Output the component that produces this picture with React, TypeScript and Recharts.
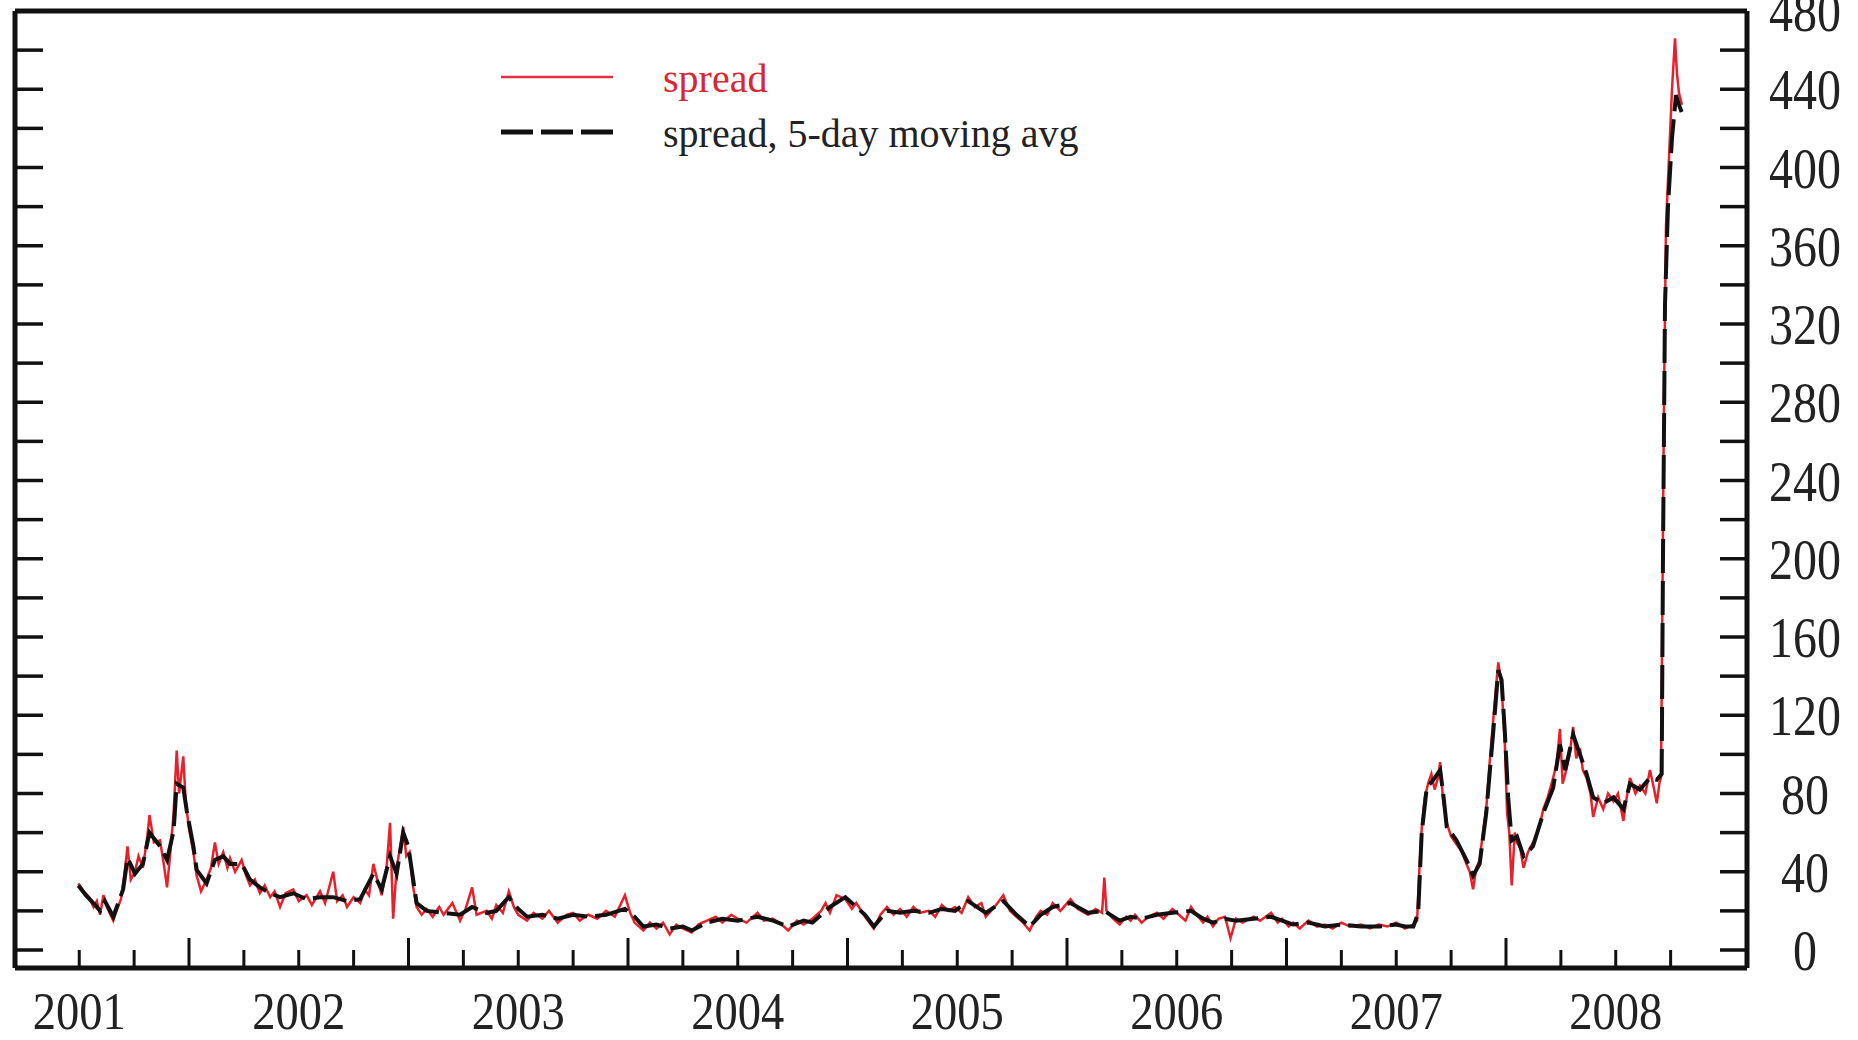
import { LineChart, Line, XAxis, YAxis, Legend } from 'recharts';

const W = 1858;
const H = 1040;
const FONT = '"Liberation Serif", "Times New Roman", serif';
const RED = '#e8202a';
const INK = '#111';

const yTicks = [0, 20, 40, 60, 80, 100, 120, 140, 160, 180, 200, 220, 240, 260, 280, 300, 320, 340, 360, 380, 400, 420, 440, 460, 480];
const xTicks = [
  2001.5, 2001.75, 2002, 2002.25, 2002.5, 2002.75, 2003, 2003.25, 2003.5, 2003.75,
  2004, 2004.25, 2004.5, 2004.75, 2005, 2005.25, 2005.5, 2005.75, 2006, 2006.25,
  2006.5, 2006.75, 2007, 2007.25, 2007.5, 2007.75, 2008, 2008.25, 2008.5, 2008.75,
];

// [year, basis points]
const spreadPts: [number, number][] = [
  [2001.496, 34], [2001.52, 30], [2001.545, 27], [2001.565, 22], [2001.58, 25], [2001.595, 18],
  [2001.61, 28], [2001.63, 21], [2001.655, 15], [2001.67, 20], [2001.69, 26], [2001.705, 38],
  [2001.72, 53], [2001.735, 36], [2001.754, 40], [2001.77, 48], [2001.79, 42], [2001.81, 58],
  [2001.82, 69], [2001.84, 55], [2001.868, 56], [2001.885, 44], [2001.9, 32], [2001.915, 50],
  [2001.93, 70], [2001.944, 102], [2001.955, 80], [2001.974, 99], [2001.985, 76], [2002.0, 62],
  [2002.02, 50], [2002.035, 38], [2002.055, 30], [2002.08, 36], [2002.1, 42], [2002.118, 55],
  [2002.135, 44], [2002.156, 50], [2002.175, 42], [2002.187, 47], [2002.21, 40], [2002.24, 46],
  [2002.26, 38], [2002.278, 33], [2002.3, 36], [2002.323, 29], [2002.345, 33], [2002.37, 27],
  [2002.39, 30], [2002.415, 22], [2002.44, 29], [2002.475, 31], [2002.5, 25], [2002.536, 28],
  [2002.56, 23], [2002.597, 30], [2002.62, 24], [2002.657, 40], [2002.675, 25], [2002.7, 28],
  [2002.72, 22], [2002.75, 27], [2002.78, 24], [2002.8, 31], [2002.82, 28], [2002.84, 44],
  [2002.86, 35], [2002.878, 28], [2002.9, 42], [2002.916, 65], [2002.93, 16], [2002.946, 42],
  [2002.965, 55], [2002.976, 63], [2002.99, 48], [2003.005, 50], [2003.02, 33], [2003.037, 22],
  [2003.06, 18], [2003.083, 21], [2003.11, 17], [2003.14, 22], [2003.16, 18], [2003.2, 24],
  [2003.235, 15], [2003.26, 21], [2003.29, 32], [2003.31, 18], [2003.356, 20], [2003.38, 16],
  [2003.4, 23], [2003.43, 19], [2003.457, 30], [2003.48, 22], [2003.5, 18], [2003.54, 15],
  [2003.57, 19], [2003.61, 16], [2003.64, 20], [2003.68, 14], [2003.72, 18], [2003.75, 19],
  [2003.78, 15], [2003.82, 18], [2003.86, 16], [2003.9, 20], [2003.94, 17], [2003.986, 28],
  [2004.01, 19], [2004.03, 14], [2004.07, 10], [2004.1, 14], [2004.13, 11], [2004.16, 14],
  [2004.19, 8], [2004.22, 13], [2004.25, 11], [2004.29, 9], [2004.32, 13], [2004.36, 15],
  [2004.4, 17], [2004.43, 14], [2004.47, 18], [2004.5, 16], [2004.54, 14], [2004.59, 19],
  [2004.62, 15], [2004.66, 16], [2004.7, 13], [2004.73, 10], [2004.77, 15], [2004.8, 13],
  [2004.84, 16], [2004.88, 20], [2004.9, 24], [2004.92, 19], [2004.95, 28], [2004.99, 26],
  [2005.02, 21], [2005.04, 24], [2005.08, 17], [2005.12, 11], [2005.15, 18], [2005.18, 22],
  [2005.21, 18], [2005.24, 21], [2005.27, 17], [2005.3, 22], [2005.33, 19], [2005.37, 20],
  [2005.4, 17], [2005.43, 23], [2005.46, 20], [2005.49, 22], [2005.52, 19], [2005.55, 27],
  [2005.58, 22], [2005.61, 24], [2005.63, 17], [2005.67, 22], [2005.71, 28], [2005.74, 20],
  [2005.77, 17], [2005.8, 14], [2005.83, 10], [2005.86, 17], [2005.88, 20], [2005.91, 18],
  [2005.935, 24], [2005.97, 20], [2006.016, 26], [2006.05, 21], [2006.096, 18], [2006.13, 21],
  [2006.16, 19], [2006.17, 37], [2006.18, 20], [2006.21, 16], [2006.24, 13], [2006.27, 17],
  [2006.29, 15], [2006.31, 18], [2006.34, 14], [2006.37, 17], [2006.41, 19], [2006.44, 16],
  [2006.48, 21], [2006.51, 18], [2006.54, 15], [2006.565, 22], [2006.59, 18], [2006.62, 14],
  [2006.64, 17], [2006.665, 12], [2006.69, 16], [2006.72, 17], [2006.745, 6], [2006.77, 16],
  [2006.8, 14], [2006.85, 17], [2006.88, 15], [2006.93, 19], [2006.96, 14], [2006.98, 16],
  [2007.01, 12], [2007.03, 14], [2007.06, 11], [2007.1, 15], [2007.14, 12], [2007.175, 13],
  [2007.21, 11], [2007.25, 14], [2007.29, 12], [2007.34, 13], [2007.38, 11], [2007.42, 13],
  [2007.46, 12], [2007.5, 14], [2007.54, 11], [2007.578, 13], [2007.595, 15], [2007.605, 40],
  [2007.616, 62], [2007.63, 78], [2007.645, 85], [2007.66, 90], [2007.675, 82], [2007.69, 88],
  [2007.7, 96], [2007.714, 76], [2007.73, 65], [2007.75, 58], [2007.775, 54], [2007.8, 50],
  [2007.82, 44], [2007.835, 40], [2007.85, 31], [2007.865, 42], [2007.88, 46], [2007.895, 60],
  [2007.91, 72], [2007.925, 95], [2007.94, 115], [2007.955, 135], [2007.965, 147], [2007.98, 135],
  [2007.995, 105], [2008.005, 70], [2008.015, 60], [2008.026, 33], [2008.04, 60], [2008.05, 55],
  [2008.065, 52], [2008.08, 42], [2008.1, 50], [2008.123, 55], [2008.15, 62], [2008.17, 72],
  [2008.19, 78], [2008.215, 88], [2008.23, 95], [2008.246, 113], [2008.258, 85], [2008.27, 90],
  [2008.29, 100], [2008.306, 114], [2008.32, 98], [2008.337, 103], [2008.35, 92], [2008.367, 88],
  [2008.385, 80], [2008.397, 68], [2008.42, 78], [2008.443, 72], [2008.465, 80], [2008.49, 76],
  [2008.51, 80], [2008.535, 66], [2008.55, 78], [2008.565, 88], [2008.59, 80], [2008.61, 84],
  [2008.635, 80], [2008.656, 92], [2008.675, 82], [2008.687, 75], [2008.7, 86], [2008.7062, 88],
  [2008.7107, 150], [2008.7198, 280], [2008.7289, 370], [2008.7426, 405], [2008.7563, 440],
  [2008.77, 466], [2008.779, 448], [2008.7882, 438], [2008.8018, 432],
];

const avgPts: [number, number][] = [
  [2001.496, 33], [2001.53, 28], [2001.564, 24], [2001.595, 20], [2001.617, 25], [2001.655, 17],
  [2001.7, 31], [2001.72, 47], [2001.754, 39], [2001.79, 44], [2001.82, 60], [2001.868, 53],
  [2001.9, 46], [2001.93, 61], [2001.944, 85], [2001.974, 83], [2001.99, 71], [2002.02, 53],
  [2002.035, 41], [2002.08, 34], [2002.118, 46], [2002.156, 48], [2002.187, 44], [2002.24, 44],
  [2002.278, 36], [2002.323, 32], [2002.37, 29], [2002.415, 27], [2002.475, 29], [2002.536, 26],
  [2002.597, 27], [2002.657, 27], [2002.72, 25], [2002.78, 26], [2002.84, 39], [2002.878, 31],
  [2002.916, 48], [2002.946, 39], [2002.976, 60], [2002.999, 53], [2003.02, 37], [2003.037, 24],
  [2003.083, 20], [2003.16, 19], [2003.235, 18], [2003.29, 22], [2003.356, 19], [2003.4, 20],
  [2003.457, 27], [2003.5, 21], [2003.54, 17], [2003.61, 18], [2003.68, 16], [2003.75, 18],
  [2003.82, 17], [2003.9, 18], [2003.986, 21], [2004.03, 17], [2004.07, 12], [2004.13, 13],
  [2004.19, 11], [2004.25, 12], [2004.29, 10], [2004.36, 14], [2004.43, 16], [2004.5, 15],
  [2004.59, 17], [2004.66, 15], [2004.73, 12], [2004.8, 15], [2004.84, 14], [2004.88, 18],
  [2004.92, 22], [2004.99, 27], [2005.04, 22], [2005.08, 18], [2005.12, 12], [2005.18, 20],
  [2005.24, 19], [2005.3, 20], [2005.37, 19], [2005.43, 21], [2005.49, 20], [2005.55, 25],
  [2005.63, 19], [2005.71, 25], [2005.77, 18], [2005.83, 12], [2005.88, 18], [2005.935, 22],
  [2006.016, 24], [2006.096, 19], [2006.17, 20], [2006.24, 15], [2006.29, 17], [2006.34, 16],
  [2006.41, 18], [2006.48, 19], [2006.565, 20], [2006.62, 16], [2006.665, 14], [2006.72, 16],
  [2006.77, 15], [2006.85, 16], [2006.93, 17], [2006.98, 15], [2007.03, 13], [2007.1, 14],
  [2007.175, 12], [2007.25, 13], [2007.34, 12], [2007.42, 12], [2007.5, 13], [2007.54, 12],
  [2007.578, 12], [2007.6, 19], [2007.616, 60], [2007.639, 83], [2007.669, 87], [2007.7, 92],
  [2007.714, 80], [2007.73, 63], [2007.775, 56], [2007.82, 46], [2007.85, 38], [2007.88, 44],
  [2007.91, 70], [2007.94, 109], [2007.965, 143], [2007.98, 138], [2007.995, 111], [2008.01, 78],
  [2008.026, 56], [2008.05, 58], [2008.08, 48], [2008.123, 53], [2008.17, 70], [2008.215, 83],
  [2008.246, 105], [2008.27, 92], [2008.306, 110], [2008.337, 100], [2008.367, 90], [2008.397, 78],
  [2008.443, 75], [2008.49, 78], [2008.535, 72], [2008.565, 85], [2008.61, 82], [2008.656, 88],
  [2008.687, 87], [2008.7093, 90], [2008.7152, 200], [2008.7244, 330], [2008.738, 380],
  [2008.7563, 415], [2008.7745, 437], [2008.7882, 432], [2008.8018, 428],
];

const spreadData = spreadPts.map(([t, v]) => ({ t, v }));
const avgData = avgPts.map(([t, v]) => ({ t, v }));

function RightTick(props: any) {
  const { x, y, payload } = props;
  const v = payload.value;
  const s = String(v);
  return (
    <g>
      <line x1={x - 27} x2={x} y1={y} y2={y} stroke={INK} strokeWidth={3.5} />
      {v % 40 === 0 && (
        <text x={x + 58} y={y + 20} textAnchor="middle" fontFamily={FONT} fontSize={57} fill="#222"
          textLength={s.length * 24} lengthAdjust="spacingAndGlyphs">{s}</text>
      )}
    </g>
  );
}

function LeftTick(props: any) {
  const { x, y } = props;
  return <line x1={x} x2={x + 28} y1={y} y2={y} stroke={INK} strokeWidth={3.5} />;
}

function BottomTick(props: any) {
  const { x, y, payload } = props;
  const v = payload.value;
  const major = Number.isInteger(v);
  const labelled = Math.abs((v % 1) - 0.5) < 1e-6;
  return (
    <g>
      <line x1={x} x2={x} y1={y} y2={y - (major ? 30 : 18)} stroke={INK} strokeWidth={3} />
      {labelled && (
        <text x={x} y={y + 61} textAnchor="middle" fontFamily={FONT} fontSize={52} fill="#222"
          textLength={93} lengthAdjust="spacingAndGlyphs">{Math.floor(v)}</text>
      )}
    </g>
  );
}

function LegendBox() {
  return (
    <svg width={700} height={130}>
      <line x1={21} x2={133} y1={37} y2={37} stroke="#e03040" strokeWidth={2.5} />
      <text x={183} y={52} fill="#d9262f" fontSize={40} fontFamily={FONT}>spread</text>
      <line x1={21} x2={133} y1={92} y2={92} stroke={INK} strokeWidth={5} strokeDasharray="32 8" />
      <text x={183} y={107} fill="#222" fontSize={40} fontFamily={FONT}>spread, 5-day moving avg</text>
    </svg>
  );
}

export default function App() {
  const frame = { stroke: INK, strokeWidth: 5 };
  return (
    <div style={{ width: W, height: H, background: '#fff' }}>
      <style>{'body{margin:0}'}</style>
      <LineChart width={W} height={H} margin={{ top: 10, left: 14, right: 0, bottom: 0 }}>
        <XAxis xAxisId="b" type="number" dataKey="t" domain={[2001.2073, 2009.098]} ticks={xTicks}
          interval={0} height={72} tickSize={0} tickMargin={0} tickLine={false} axisLine={frame}
          tick={BottomTick} allowDataOverflow />
        <XAxis xAxisId="top" orientation="top" type="number" dataKey="t" domain={[2001.2073, 2009.098]}
          height={1} ticks={xTicks} tick={false} tickLine={false} axisLine={frame} allowDataOverflow />
        <YAxis yAxisId="r" orientation="right" type="number" domain={[-9.2, 480]} ticks={yTicks}
          interval={0} width={111} tickSize={0} tickMargin={0} tickLine={false} axisLine={frame}
          tick={RightTick} allowDataOverflow />
        <YAxis yAxisId="l" orientation="left" type="number" domain={[-9.2, 480]} ticks={yTicks}
          interval={0} width={1} tickSize={0} tickMargin={0} tickLine={false} axisLine={frame}
          tick={LeftTick} allowDataOverflow />
        <Legend layout="horizontal" verticalAlign="middle" align="center"
          wrapperStyle={{ top: 40, left: 480, width: 700, height: 130 }} content={() => <LegendBox />} />
        <Line xAxisId="b" yAxisId="r" data={spreadData} dataKey="v" name="spread" type="linear"
          stroke={RED} strokeWidth={2.5} dot={false} isAnimationActive={false} />
        <Line xAxisId="b" yAxisId="r" data={avgData} dataKey="v" name="spread, 5-day moving avg" type="linear"
          stroke={INK} strokeWidth={4} strokeDasharray="34 8" dot={false} isAnimationActive={false} />
      </LineChart>
    </div>
  );
}
